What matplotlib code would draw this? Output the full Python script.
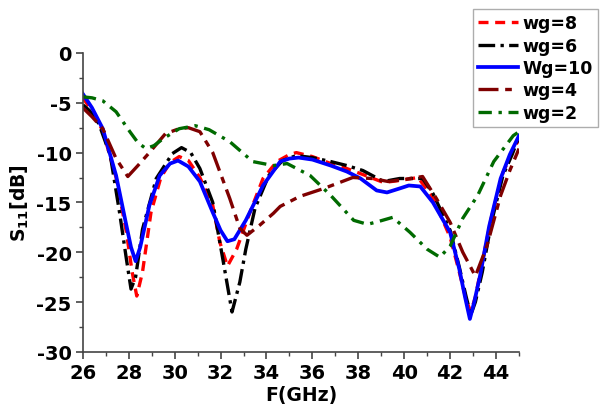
import matplotlib
matplotlib.use("Agg")
import matplotlib.pyplot as plt
from matplotlib.ticker import MultipleLocator

plt.rcParams["axes.unicode_minus"] = False

# values
f_wg8 = [26, 26.4, 26.87, 27.45, 27.9, 28.15, 28.35, 28.6, 28.97, 29.4, 29.8, 30.2, 30.6, 31.1,
         31.66, 31.97, 32.3, 32.7, 33.28, 33.85, 34.45, 35.0, 35.3, 36.0, 36.8, 37.5, 38.2, 39.1,
         39.8, 40.6, 41.25, 42.0, 42.4, 42.7, 42.9, 43.1, 43.4, 43.8, 44.3, 44.7, 45]
s_wg8 = [-4.5, -5.8, -7.8, -12.5, -18.0, -22.0, -24.4, -22.0, -16.0, -12.5, -11.0, -10.4, -10.8, -12.5,
         -15.3, -19.0, -21.4, -19.7, -16.0, -12.6, -10.9, -10.2, -10.0, -10.4, -11.1, -11.6, -12.2, -13.0,
         -12.8, -12.5, -14.5, -18.5, -22.0, -24.8, -26.0, -24.5, -21.0, -16.5, -12.0, -10.0, -8.6]

f_wg6 = [26, 26.3, 26.7, 27.2, 27.6, 27.9, 28.1, 28.3, 28.6, 29.2, 29.9, 30.3, 30.7, 31.1, 31.66,
         32.1, 32.5, 32.84, 33.1, 33.5, 34.1, 34.7, 35.3, 36.0, 36.8, 37.5, 38.2, 39.1, 39.8, 40.8,
         41.25, 42.0, 42.4, 42.7, 42.9, 43.1, 43.4, 43.8, 44.3, 44.7, 45]
s_wg6 = [-5.2, -5.8, -7.1, -10.3, -16.0, -20.7, -23.7, -22.5, -17.7, -12.6, -10.1, -9.5, -10.0, -11.6, -15.0,
         -20.7, -26.0, -23.0, -19.7, -15.6, -12.3, -10.8, -10.3, -10.5, -10.9, -11.3, -11.8, -12.9, -12.6, -12.6,
         -14.1, -17.8, -21.5, -24.5, -26.3, -25.0, -22.0, -17.0, -12.3, -10.2, -8.4]

f_wg10 = [26, 26.4, 26.87, 27.45, 27.87, 28.1, 28.3, 28.5, 28.9, 29.35, 29.8, 30.15, 30.6, 31.1, 31.66,
          32.0, 32.3, 32.6, 33.1, 33.85, 34.6, 35.0, 35.4, 36.0, 36.8, 37.5, 38.1, 38.8, 39.25, 39.8,
          40.2, 40.7, 41.25, 42.0, 42.4, 42.65, 42.86, 43.05, 43.3, 43.7, 44.2, 44.6, 45]
s_wg10 = [-4.1, -5.5, -7.6, -12.3, -17.0, -19.5, -20.9, -19.5, -15.3, -12.3, -11.1, -10.8, -11.4, -12.9, -16.0,
          -17.8, -18.9, -18.7, -16.8, -13.3, -10.9, -10.6, -10.5, -10.7, -11.3, -11.9, -12.6, -13.8, -14.0, -13.6,
          -13.3, -13.4, -15.0, -18.0, -21.7, -24.5, -26.7, -25.0, -22.4, -17.4, -12.6, -10.2, -8.3]

f_wg4 = [26, 26.4, 26.87, 27.45, 27.96, 28.4, 28.9, 29.6, 30.2, 30.6, 31.1, 31.66, 32.4, 32.84, 33.15,
         33.7, 34.3, 34.6, 35.45, 36.5, 37.76, 38.6, 39.3, 40.0, 40.8, 41.4, 42.0, 42.55, 43.1, 43.6,
         44.2, 44.6, 45]
s_wg4 = [-5.5, -6.4, -7.6, -10.6, -12.4, -11.3, -10.0, -8.1, -7.6, -7.5, -7.9, -10.0, -14.6, -17.6, -18.3,
         -17.3, -16.1, -15.4, -14.4, -13.6, -12.5, -12.6, -12.9, -12.7, -12.4, -14.6, -17.0, -20.0, -22.4, -19.4,
         -14.3, -11.8, -9.6]

f_wg2 = [26, 26.4, 26.87, 27.45, 28.05, 28.4, 28.75, 29.1, 29.5, 30.2, 30.9, 31.5, 32.4, 33.4, 34.3,
         34.9, 35.9, 36.8, 37.8, 38.4, 38.9, 39.5, 40.25, 41.0, 41.55, 42.0, 42.55, 43.2, 43.9, 44.75, 45]
s_wg2 = [-4.4, -4.5, -4.8, -5.9, -7.9, -9.0, -9.6, -9.3, -8.6, -7.6, -7.3, -7.7, -8.9, -10.9, -11.3,
         -11.1, -12.3, -14.3, -16.8, -17.2, -16.9, -16.5, -18.0, -19.7, -20.5, -19.4, -16.6, -14.3, -10.9, -8.3, -7.9]

fig = plt.figure(figsize=(6.0, 4.06), dpi=100)
ax = fig.add_axes([0.138, 0.131, 0.727, 0.736])

lw = 2.4
ax.plot(f_wg8, s_wg8, color="#ff0000", lw=lw, dashes=(3, 2), label="wg=8")
ax.plot(f_wg6, s_wg6, color="black", lw=lw, dashes=(5, 1.6, 1, 1.6), label="wg=6")
ax.plot(f_wg10, s_wg10, color="#0000ff", lw=lw + 0.3, label="Wg=10")
ax.plot(f_wg4, s_wg4, color="#7f0000", lw=lw, dashes=(6, 2, 2, 2), label="wg=4")
ax.plot(f_wg2, s_wg2, color="#006a00", lw=lw, dashes=(4, 2, 1, 2), label="wg=2")

ax.set_xlim(26, 45)
ax.set_ylim(-30, 0)
ax.xaxis.set_minor_locator(MultipleLocator(1))
ax.yaxis.set_major_locator(MultipleLocator(5))
ax.yaxis.set_minor_locator(MultipleLocator(2.5))
ax.set_xticks([26, 28, 30, 32, 34, 36, 38, 40, 42, 44])

for s in ["top", "right"]:
    ax.spines[s].set_visible(False)
for s in ["left", "bottom"]:
    ax.spines[s].set_color("#444444")
    ax.spines[s].set_linewidth(1.2)

ax.tick_params(which="major", direction="out", length=5, width=1.2, color="#444444",
               labelsize=14, pad=3)
ax.tick_params(which="minor", direction="out", length=3, width=1.0, color="#444444")
for lab in ax.get_xticklabels() + ax.get_yticklabels():
    lab.set_fontweight("bold")

ax.set_xlabel("F(GHz)", fontsize=13.5, fontweight="bold", labelpad=2)
ax.set_ylabel("S$_\\mathbf{11}$[dB]", fontsize=13.5, fontweight="bold", labelpad=4)

leg = fig.legend(loc="upper right", bbox_to_anchor=(0.997, 0.975), fontsize=12.5,
                 frameon=True, fancybox=False, handlelength=2.3, handletextpad=0.25,
                 labelspacing=0.25, borderpad=0.3, borderaxespad=0)
leg.get_frame().set_edgecolor("#999999")
leg.get_frame().set_linewidth(1.0)
for t in leg.get_texts():
    t.set_fontweight("bold")

fig.savefig("out.png", dpi=100)
